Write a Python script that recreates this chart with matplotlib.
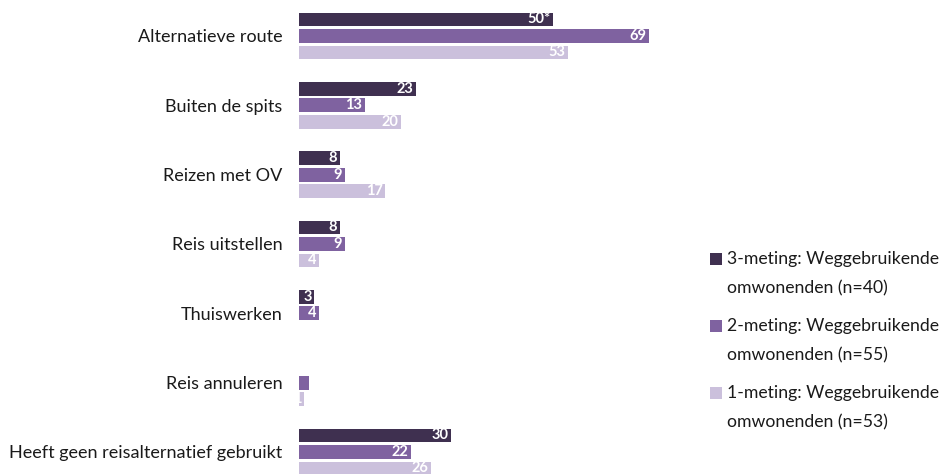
import matplotlib.pyplot as plt
import numpy as np
from matplotlib.patches import Rectangle

categories = ['Alternatieve route', 'Buiten de spits', 'Reizen met OV', 'Reis uitstellen',
              'Thuiswerken', 'Reis annuleren', 'Heeft geen reisalternatief gebruikt']
meting3 = [50, 23, 8, 8, 3, 0, 30]
meting2 = [69, 13, 9, 9, 4, 2, 22]
meting1 = [53, 20, 17, 4, 0, 1, 26]
labels3 = ['50*', '23', '8', '8', '3', '', '30']
labels2 = ['69', '13', '9', '9', '4', '', '22']
labels1 = ['53', '20', '17', '4', '', '1', '26']
series_names = [('3-meting: Weggebruikende', 'omwonenden (n=40)'),
                ('2-meting: Weggebruikende', 'omwonenden (n=55)'),
                ('1-meting: Weggebruikende', 'omwonenden (n=53)')]
colors = ['#3f3050', '#7f62a0', '#cbc0dc']

plt.rcParams['font.family'] = ['Lato', 'DejaVu Sans']

W, H = 943, 474
fig = plt.figure(figsize=(W / 100, H / 100), dpi=100)
ax = fig.add_axes([299 / W, 0, 391 / W, 1])

y = np.arange(len(categories))
offset = 0.238
h = 0.2

for vals, labs, col, dy in zip([meting3, meting2, meting1], [labels3, labels2, labels1],
                               colors, [-offset, 0, offset]):
    bars = ax.barh(y + dy, vals, height=h, color=col, linewidth=0)
    for b, lab in zip(bars, labs):
        if lab:
            ax.text(b.get_width() - 0.5, b.get_y() + b.get_height() / 2, lab,
                    ha='right', va='center', color='white', fontsize=10.5, fontweight='bold')

ax.set_xlim(0, 77)
ax.set_ylim(6.318, -0.519)
ax.set_yticks(y)
ax.set_yticklabels(categories, fontsize=13, color='#1a1a1a')
ax.tick_params(axis='y', length=0, pad=12)
ax.set_xticks([])
for s in ax.spines.values():
    s.set_visible(False)

# legend drawn by hand: square on the first line, label in two lines
for i, (name, col) in enumerate(zip(series_names, colors)):
    top = 259 + i * 67
    fig.patches.append(Rectangle((710 / W, 1 - (top + 6) / H), 12 / W, 12 / H,
                                 transform=fig.transFigure, facecolor=col, edgecolor='none'))
    fig.text(727 / W, 1 - top / H, name[0], fontsize=12.7, va='center', color='#1a1a1a')
    fig.text(727 / W, 1 - (top + 29) / H, name[1], fontsize=12.7, va='center', color='#1a1a1a')

fig.savefig('out.png', dpi=100)
